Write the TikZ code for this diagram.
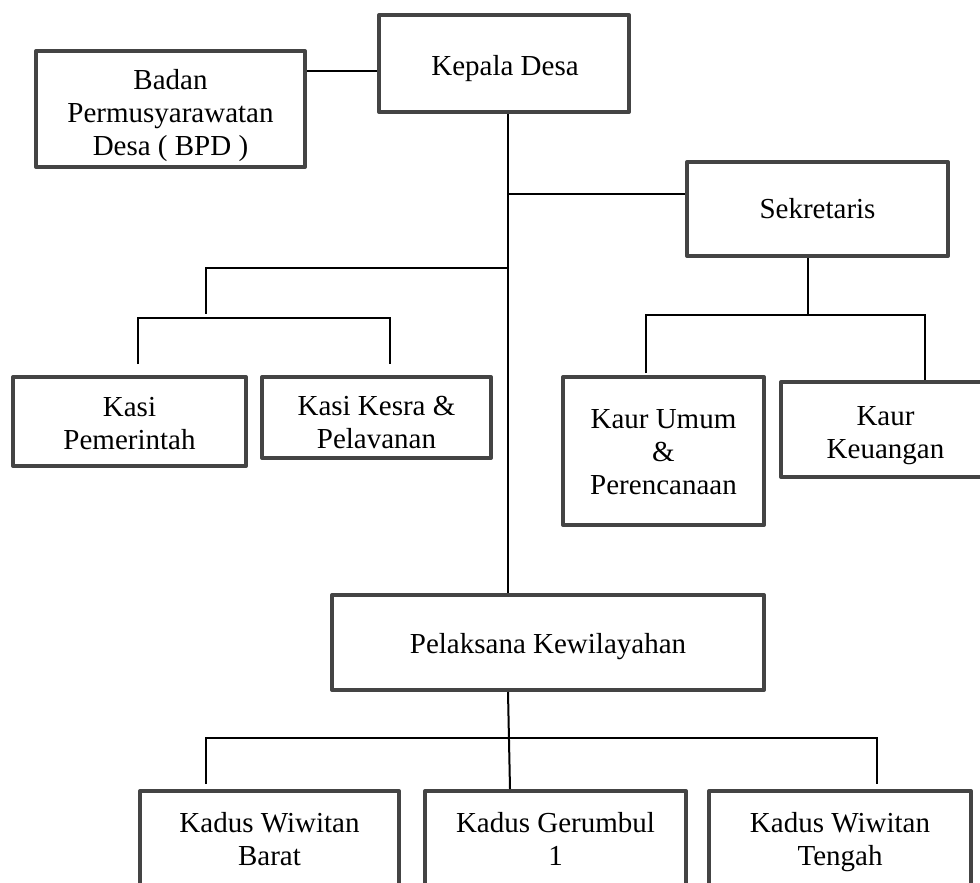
\documentclass[tikz,border=0pt]{standalone}
\usepackage{fontspec}
\setmainfont{Liberation Serif}
\definecolor{boxgray}{HTML}{444444}
\begin{document}
\begin{tikzpicture}[x=1pt,y=-1pt,
  box/.style={draw=boxgray, line width=4pt, line join=round, rectangle, inner sep=0pt},
  txt/.style={align=center, inner sep=0pt, anchor=north, font=\fontsize{29}{33}\selectfont},
  conn/.style={draw=black, line width=2pt}]
\useasboundingbox (0,0) rectangle (980,883);
\clip (0,0) rectangle (980,883);
\fill[white] (0,0) rectangle (980,883);

% boxes
\node[box, minimum width=269pt, minimum height=116pt] (bpd) at (170.5,109) {};
\node[box, minimum width=250pt, minimum height=97pt] (kep) at (504,63.5) {};
\node[box, minimum width=261pt, minimum height=94pt] (sek) at (817.5,209) {};
\node[box, minimum width=233pt, minimum height=89pt] (kasa) at (129.5,421.5) {};
\node[box, minimum width=229pt, minimum height=81pt] (kasb) at (376.5,417.5) {};
\node[box, minimum width=201pt, minimum height=148pt] (kaura) at (663.5,451) {};
\node[box, minimum width=209pt, minimum height=95pt] (kaurb) at (885.5,429.5) {};
\node[box, minimum width=432pt, minimum height=95pt] (pel) at (548,642.5) {};
\node[box, minimum width=259pt, minimum height=102pt] (kda) at (269.5,842) {};
\node[box, minimum width=261pt, minimum height=102pt] (kdb) at (555.5,842) {};
\node[box, minimum width=262pt, minimum height=102pt] (kdc) at (840,842) {};

% texts (placed at first baseline minus strut height 23.1)
\node[txt] (bpdt) at (170.5,65.9) {\strut Badan\\Permusyarawatan\\Desa ( BPD )};
\node[txt] (kept) at (505,51.9) {\strut Kepala Desa};
\node[txt] (sekt) at (817.5,194.9) {\strut Sekretaris};
\node[txt] (kasat) at (129.5,392.9) {\strut Kasi\\Pemerintah};
\node[txt] (kasbt) at (376.5,391.9) {\strut Kasi Kesra \&\\Pelavanan};
\node[txt] (kaurat) at (663.5,404.9) {\strut Kaur Umum\\\&\\Perencanaan};
\node[txt] (kaurbt) at (885.5,401.9) {\strut Kaur\\Keuangan};
\node[txt] (pelt) at (548,629.9) {\strut Pelaksana Kewilayahan};
\node[txt] (kdat) at (269.5,808.9) {\strut Kadus Wiwitan\\Barat};
\node[txt] (kdbt) at (555.5,808.9) {\strut Kadus Gerumbul\\1};
\node[txt] (kdct) at (840,808.9) {\strut Kadus Wiwitan\\Tengah};

% helper coordinates
\coordinate (trunk) at (508,0);
\coordinate (lb) at (206,268);
\coordinate (lbdrop) at (206,314);
\coordinate (lha) at (138,318);
\coordinate (lhb) at (390,318);
\coordinate (lda) at (138,364);
\coordinate (ldb) at (390,364);
\coordinate (sdrop) at (808,315);
\coordinate (sha) at (646,315);
\coordinate (shb) at (925,315);
\coordinate (sda) at (646,373);
\coordinate (sdb) at (925,380);
\coordinate (pha) at (206,738);
\coordinate (phb) at (877,738);
\coordinate (pda) at (206,784);
\coordinate (pdb) at (877,784);

% connectors
\draw[conn] (bpd.east |- 0,71) -- (kep.west |- 0,71);
\draw[conn] (kep.south -| trunk) -- (pel.north -| trunk);
\draw[conn] (trunk |- 0,194) -- (sek.west |- 0,194);
\draw[conn] (trunk |- lb) -- (lb) -- (lbdrop);
\draw[conn] (lda) -- (lha) -- (lhb) -- (ldb);
\draw[conn] (sek.south -| sdrop) -- (sdrop);
\draw[conn] (sda) -- (sha) -- (shb) -- (sdb);
\draw[conn] (pel.south -| trunk) -- (kdb.north -| 510,0);
\draw[conn] (pda) -- (pha) -- (phb) -- (pdb);
\end{tikzpicture}
\end{document}
